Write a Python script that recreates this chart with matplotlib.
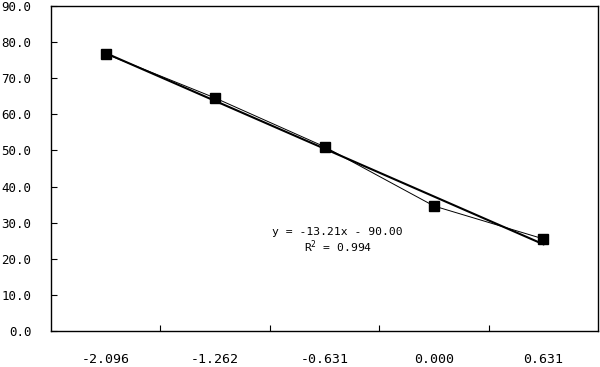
import numpy as np
import matplotlib
matplotlib.use('Agg')
import matplotlib.pyplot as plt
from matplotlib.ticker import FixedLocator, MultipleLocator, FormatStrFormatter

categories = ['-2.096', '-1.262', '-0.631', '0.000', '0.631']
values = [76.7, 64.5, 51.0, 34.6, 25.5]
eq_text = 'y = -13.21x - 90.00'
r2_text = 'R$^2$ = 0.994'

plt.rcParams['font.family'] = ['DejaVu Sans Mono']
plt.rcParams['mathtext.default'] = 'regular'


def main():
    x = np.arange(1, len(categories) + 1)
    slope, icpt = np.polyfit(x, values, 1)

    fig = plt.figure(figsize=(6.0, 3.67), dpi=100)
    ax = fig.add_axes([0.085, 0.098, 0.912, 0.886])

    ax.plot(x, values, color='black', lw=0.7, marker='s', ms=7,
            mec='black', mfc='black', zorder=3)
    ax.plot(x, slope * x + icpt, color='black', lw=1.5, zorder=2)

    ax.set_xlim(0.5, len(categories) + 0.5)
    ax.set_ylim(0, 90)

    # category labels centred, ticks on the boundaries (excel style)
    ax.set_xticks(x)
    ax.set_xticklabels(categories)
    ax.tick_params(axis='x', which='major', length=0, pad=16, labelsize=9.5)
    ax.xaxis.set_minor_locator(FixedLocator(np.arange(1.5, len(categories), 1.0)))
    ax.tick_params(axis='x', which='minor', direction='in', length=4, width=0.8)

    ax.yaxis.set_major_locator(MultipleLocator(10))
    ax.yaxis.set_major_formatter(FormatStrFormatter('%.1f'))
    ax.tick_params(axis='y', direction='in', length=4, width=0.8, pad=14, labelsize=9)

    for s in ax.spines.values():
        s.set_linewidth(1.0)
        s.set_color('black')

    ax.text(3.12, 27.5, eq_text, ha='center', va='center', fontsize=8.2)
    ax.text(3.12, 23.3, r2_text, ha='center', va='center', fontsize=8.2)

    fig.savefig('out.png', dpi=100)


if __name__ == '__main__':
    main()
